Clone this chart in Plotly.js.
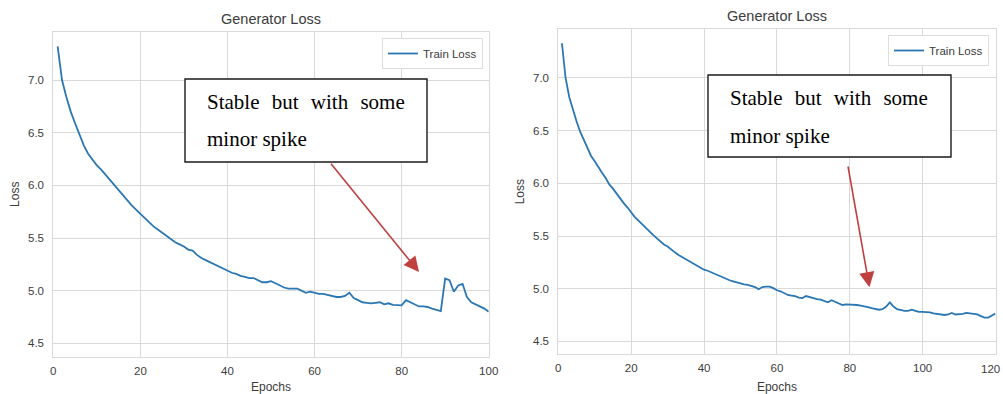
<!DOCTYPE html>
<html>
<head>
<meta charset="utf-8">
<script src="https://cdn.plot.ly/plotly-3.0.1.min.js"></script>
<style>html,body{margin:0;padding:0;background:#fff;}#chart{width:1003px;height:394px;}</style>
</head>
<body>
<div id="chart"></div>
<script>
// ---- Data ----
const epochsLeft = [1,2,3,4,5,6,7,8,9,10,11,12,13,14,15,16,17,18,19,20,21,22,23,24,25,26,27,28,29,30,31,32,33,34,35,36,37,38,39,40,41,42,43,44,45,46,47,48,49,50,51,52,53,54,55,56,57,58,59,60,61,62,63,64,65,66,67,68,69,70,71,72,73,74,75,76,77,78,79,80,81,82,83,84,85,86,87,88,89,90,91,92,93,94,95,96,97,98,99,100];
const lossLeft = [7.32,7.00,6.84,6.70,6.59,6.49,6.38,6.30,6.24,6.19,6.15,6.10,6.05,6.00,5.95,5.91,5.86,5.81,5.77,5.73,
  5.69,5.65,5.61,5.58,5.55,5.52,5.49,5.46,5.44,5.42,5.39,5.38,5.34,5.31,5.29,5.27,5.25,5.23,5.21,5.19,
  5.17,5.16,5.14,5.13,5.12,5.12,5.10,5.08,5.08,5.09,5.07,5.05,5.03,5.02,5.02,5.02,5.00,4.98,4.99,4.98,
  4.97,4.97,4.96,4.95,4.94,4.94,4.95,4.98,4.93,4.91,4.89,4.885,4.88,4.885,4.89,4.87,4.88,4.865,4.86,4.86,
  4.91,4.89,4.87,4.85,4.85,4.845,4.83,4.815,4.805,5.115,5.10,4.99,5.05,5.065,4.94,4.89,4.87,4.85,4.83,4.80];

const epochsRight = [1,2,3,4,5,6,7,8,9,10,11,12,13,14,15,16,17,18,19,20,21,22,23,24,25,26,27,28,29,30,31,32,33,34,35,36,37,38,39,40,41,42,43,44,45,46,47,48,49,50,51,52,53,54,55,56,57,58,59,60,61,62,63,64,65,66,67,68,69,70,71,72,73,74,75,76,77,78,79,80,81,82,83,84,85,86,87,88,89,90,91,92,93,94,95,96,97,98,99,100,101,102,103,104,105,106,107,108,109,110,111,112,113,114,115,116,117,118,119,120];
const lossRight = [7.33,7.00,6.82,6.70,6.59,6.49,6.41,6.33,6.26,6.21,6.15,6.10,6.05,5.99,5.95,5.90,5.85,5.81,5.77,5.72,
  5.68,5.645,5.61,5.57,5.535,5.51,5.48,5.445,5.42,5.40,5.37,5.345,5.32,5.30,5.28,5.255,5.235,5.215,5.20,5.18,
  5.17,5.155,5.14,5.12,5.105,5.095,5.08,5.07,5.06,5.045,5.04,5.035,5.025,5.015,4.995,5.015,5.02,5.02,5.005,4.985,
  4.975,4.96,4.94,4.935,4.93,4.915,4.91,4.93,4.92,4.905,4.90,4.895,4.88,4.87,4.89,4.875,4.86,4.845,4.85,4.85,
  4.85,4.845,4.84,4.835,4.825,4.815,4.805,4.80,4.805,4.83,4.87,4.83,4.805,4.795,4.79,4.79,4.80,4.79,4.78,4.78,
  4.78,4.775,4.765,4.76,4.755,4.75,4.755,4.77,4.755,4.755,4.76,4.77,4.765,4.765,4.755,4.74,4.725,4.725,4.745,4.765];

const xTicksLeft = [0,20,40,60,80,100];
const xTicksRight = [0,20,40,60,80,100,120];
const xTickTextRight = ['0','20','40','60','80','100',''];  // last label drawn separately so it stays inside the page
const lastTickRight = 120;
const yTicks = [4.5,5.0,5.5,6.0,6.5,7.0];
const chartTitle = "Generator Loss";
const xLabel = "Epochs";
const yLabel = "Loss";
const seriesName = "Train Loss";
const noteLine1 = "Stable\u2002\u200Abut\u2002\u200Awith\u2002\u200Asome";
const noteLine2 = "minor spike";
// arrow (tail -> tip) in data units
const arrowLeft = {fromX: 63.5, fromY: 6.22, toX: 84.0, toY: 5.177};
const arrowRight = {fromX: 79.45, fromY: 6.174, toX: 85.4, toY: 5.013};

// ---- Layout helpers ----
const W = 1003, H = 394;
const px = v => v / W;
const py = v => 1 - v / H;

const lineColor = '#2b77b3';
const gridColor = '#d9d9d9';
const textColor = '#3c3c3c';
const sans = 'Liberation Sans, Arial, sans-serif';
const serif = 'Liberation Serif, Times New Roman, serif';
const red = '#c0403f';

function xAxis(domain, range, ticks, ticktext) {
  const ax = {
    domain: domain, range: range, tickvals: ticks, ticks: '', ticklabelstandoff: 3,
    showgrid: true, gridcolor: gridColor, gridwidth: 1, zeroline: false,
    showline: true, linecolor: gridColor, linewidth: 1, mirror: true,
    tickfont: {family: sans, size: 11.5, color: textColor},
    title: {text: xLabel, font: {family: sans, size: 12, color: textColor}},
    fixedrange: true
  };
  if (ticktext) ax.ticktext = ticktext;
  return ax;
}
function yAxis(domain, range) {
  return {
    domain: domain, range: range, tickvals: yTicks, tickformat: '.1f', ticks: '', ticklabelstandoff: 6,
    showgrid: true, gridcolor: gridColor, gridwidth: 1, zeroline: false,
    showline: true, linecolor: gridColor, linewidth: 1, mirror: true,
    tickfont: {family: sans, size: 11.5, color: textColor},
    title: {text: yLabel, font: {family: sans, size: 12, color: textColor}},
    fixedrange: true
  };
}

const traces = [
  {x: epochsLeft, y: lossLeft, type: 'scatter', mode: 'lines', name: seriesName,
   line: {color: lineColor, width: 1.8}, xaxis: 'x', yaxis: 'y', legend: 'legend'},
  {x: epochsRight, y: lossRight, type: 'scatter', mode: 'lines', name: seriesName,
   line: {color: lineColor, width: 1.8}, xaxis: 'x2', yaxis: 'y2', legend: 'legend2'}
];

function legendAt(x, y) {
  return {x: px(x), y: py(y), xanchor: 'left', yanchor: 'top', bgcolor: '#ffffff',
    bordercolor: '#dddddd', borderwidth: 1, font: {family: sans, size: 11.5, color: textColor},
    tracegroupgap: 0, itemwidth: 30};
}

function noteText(x, y, t) {
  return {xref: 'paper', yref: 'paper', x: px(x), y: py(y), xanchor: 'left', yanchor: 'middle',
    text: t, showarrow: false, font: {family: serif, size: 21, color: '#000'}};
}
function arrow(xr, yr, a) {
  return {xref: xr, yref: yr, axref: xr, ayref: yr, x: a.toX, y: a.toY, ax: a.fromX, ay: a.fromY,
    text: '', showarrow: true, arrowhead: 2, arrowsize: 1.9, arrowwidth: 1.6, arrowcolor: red};
}

const layout = {
  width: W, height: H, margin: {l: 0, r: 0, t: 0, b: 0},
  paper_bgcolor: '#ffffff', plot_bgcolor: '#ffffff', showlegend: true,
  xaxis: Object.assign(xAxis([px(53.3), px(488.7)], [0, 100], xTicksLeft), {anchor: 'y'}),
  yaxis: Object.assign(yAxis([py(356.7), py(31.7)], [4.373, 7.459]), {anchor: 'x'}),
  xaxis2: Object.assign(xAxis([px(558.3), px(995.5)], [0, 120], xTicksRight, xTickTextRight), {anchor: 'y2'}),
  yaxis2: Object.assign(yAxis([py(354.3), py(29)], [4.377, 7.465]), {anchor: 'x2'}),
  legend: legendAt(382, 38),
  legend2: legendAt(888, 35),
  shapes: [
    {type: 'rect', xref: 'paper', yref: 'paper', x0: px(185), x1: px(427), y0: py(162), y1: py(79),
     line: {color: '#1a1a1a', width: 1.4}, fillcolor: '#ffffff', layer: 'above'},
    {type: 'rect', xref: 'paper', yref: 'paper', x0: px(708), x1: px(951), y0: py(157), y1: py(75),
     line: {color: '#1a1a1a', width: 1.4}, fillcolor: '#ffffff', layer: 'above'}
  ],
  annotations: [
    {xref: 'paper', yref: 'paper', x: px(271), y: py(19), xanchor: 'center', yanchor: 'middle',
     text: chartTitle, showarrow: false, font: {family: sans, size: 14.5, color: textColor}},
    {xref: 'paper', yref: 'paper', x: px(777), y: py(16), xanchor: 'center', yanchor: 'middle',
     text: chartTitle, showarrow: false, font: {family: sans, size: 14.5, color: textColor}},
    {xref: 'x2', yref: 'paper', x: lastTickRight, y: py(368.5), xanchor: 'right', yanchor: 'middle',
     xshift: 6, text: String(lastTickRight), showarrow: false,
     font: {family: sans, size: 11.5, color: textColor}},
    noteText(205, 102, noteLine1),
    noteText(205, 139, noteLine2),
    noteText(728, 98, noteLine1),
    noteText(728, 136, noteLine2),
    arrow('x', 'y', arrowLeft),
    arrow('x2', 'y2', arrowRight)
  ]
};

Plotly.newPlot('chart', traces, layout, {displayModeBar: false, staticPlot: true});
</script>
</body>
</html>
